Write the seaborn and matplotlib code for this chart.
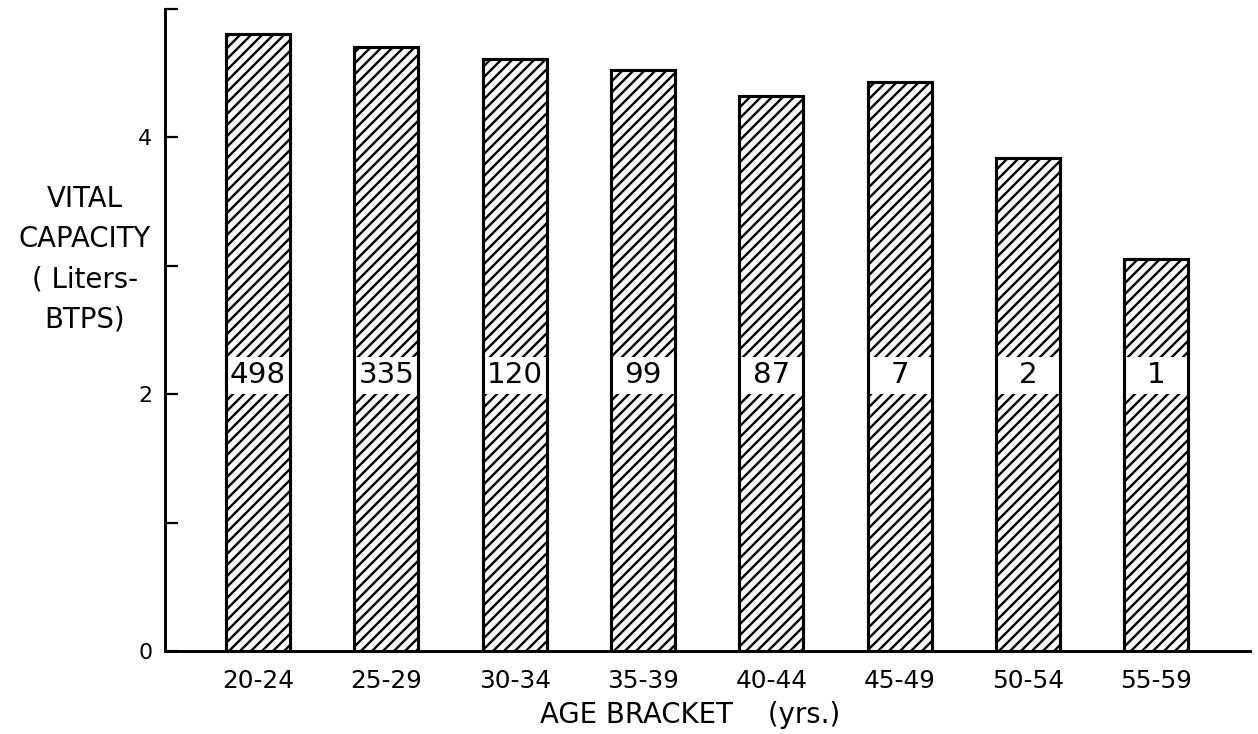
import matplotlib
matplotlib.use("Agg")
import matplotlib.pyplot as plt
import seaborn as sns

# dados
faixas = ["20-24", "25-29", "30-34", "35-39", "40-44", "45-49", "50-54", "55-59"]
capacidade = [4.80, 4.70, 4.61, 4.52, 4.32, 4.43, 3.84, 3.05]
n_sujeitos = ["498", "335", "120", "99", "87", "7", "2", "1"]
yticks = [0, 1, 2, 3, 4, 5]
ytick_labels = ["0", "", "2", "", "4", ""]


def main():
    sns.set_style("white")
    plt.rcParams["font.family"] = ["DejaVu Sans"]
    plt.rcParams["hatch.linewidth"] = 1.3
    for k in ["text.color", "axes.labelcolor", "xtick.color", "ytick.color"]:
        plt.rcParams[k] = "black"

    dpi = 132
    fig = plt.figure(figsize=(1258 / dpi, 734 / dpi), dpi=dpi)
    ax = fig.add_axes([165 / 1258, 1 - 651 / 734, (1250 - 165) / 1258, (651 - 8.5) / 734])

    # barras hachuradas
    sns.barplot(x=faixas, y=capacidade, color="white", edgecolor="black",
                hatch="////", width=0.5, linewidth=0, saturation=1, ax=ax)

    pos = list(range(len(faixas)))
    # caixas brancas para o numero de sujeitos
    ax.bar(pos, [0.29] * len(pos), bottom=2.0, width=0.5, color="white",
           edgecolor="none", zorder=3)
    # contorno das barras
    ax.bar(pos, capacidade, width=0.5, fill=False, edgecolor="black",
           linewidth=1.7, zorder=4)
    for i, txt in enumerate(n_sujeitos):
        ax.text(i, 2.145, txt, ha="center", va="center", fontsize=16, zorder=5)

    ax.set_xlim(-0.725, 7.73)
    ax.set_ylim(0, 5)
    ax.set_yticks(yticks)
    ax.set_yticklabels(ytick_labels, fontsize=12)
    ax.tick_params(axis="y", direction="in", length=7, width=1.2, pad=7, left=True)
    ax.tick_params(axis="x", length=0, labelsize=13.5, pad=10)

    for s in ["top", "right"]:
        ax.spines[s].set_visible(False)
    for s in ["left", "bottom"]:
        ax.spines[s].set_color("black")
        ax.spines[s].set_linewidth(1.6)

    ax.set_ylabel("VITAL\nCAPACITY\n( Liters-\nBTPS)", rotation=0, fontsize=15,
                  ha="center", va="center", linespacing=1.55)
    ax.yaxis.set_label_coords(-0.074, 0.61)
    ax.set_xlabel("AGE BRACKET    (yrs.)", fontsize=15, va="center")
    ax.xaxis.set_label_coords(0.484, -0.1)

    fig.savefig("out.png", dpi=dpi)


if __name__ == "__main__":
    main()
